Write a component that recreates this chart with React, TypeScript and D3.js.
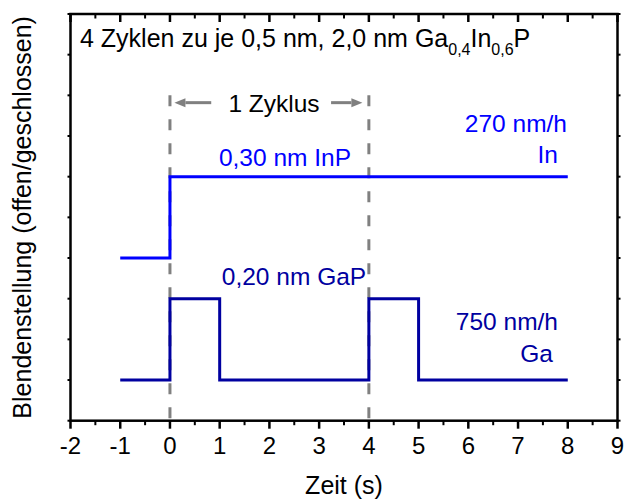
import React from "react";
import * as d3 from "d3";

// Shutter timing: time in seconds, shutter state as level
const timeTicks = [-2, -1, 0, 1, 2, 3, 4, 5, 6, 7, 8, 9];
const levelTicks = [0, 1, 2, 3, 4, 5, 6, 7, 8, 9, 10];
const inpTimes = [-1, 0, 8];
const inpLevels = [4, 6, 6];
const gaTimes = [-1, 0, 1, 4, 5, 8];
const gaLevels = [1, 3, 1, 3, 1, 1];
const cycleBounds = [0, 4];

const W = 624;
const H = 499;
const left = 70.5;
const right = 617.5;
const top = 14;
const bottom = 420.7;

const FONT = "'Liberation Sans', Arial, Helvetica, sans-serif";
const IN_COLOR = "#0000FF";
const GA_COLOR = "#0000A0";
const GRAY = "#808080";

export default function App() {
  const x = d3.scaleLinear().domain([-2, 9]).range([left, right]);
  const y = d3.scaleLinear().domain([0, 10]).range([bottom, top]);

  const step = d3
    .line<[number, number]>()
    .x((d) => x(d[0]))
    .y((d) => y(d[1]))
    .curve(d3.curveStepAfter);

  const inpPts = inpTimes.map((t, i) => [t, inpLevels[i]] as [number, number]);
  const gaPts = gaTimes.map((t, i) => [t, gaLevels[i]] as [number, number]);

  const minorTicks = d3.range(-1.5, 9, 1);

  const arrowY = y(7.82);
  const arrow = (x0: number, x1: number) => {
    const dir = Math.sign(x1 - x0);
    const headLen = 11;
    const headHalf = 4.5;
    const baseX = x1 - dir * headLen;
    return (
      <g>
        <line x1={x0} y1={arrowY} x2={baseX} y2={arrowY} stroke={GRAY} strokeWidth={3} />
        <polygon
          points={`${x1},${arrowY} ${baseX},${arrowY - headHalf} ${baseX},${arrowY + headHalf}`}
          fill={GRAY}
        />
      </g>
    );
  };

  return (
    <svg
      width={W}
      height={H}
      style={{ position: "absolute", left: 0, top: 0, background: "#fff" }}
      fontFamily={FONT}
    >
      {/* cycle boundaries */}
      {cycleBounds.map((t) => (
        <line
          key={t}
          x1={x(t)}
          x2={x(t)}
          y1={y(8)}
          y2={bottom}
          stroke={GRAY}
          strokeWidth={3}
          strokeDasharray="11,13"
        />
      ))}

      {/* shutter traces */}
      <path d={step(inpPts) ?? ""} fill="none" stroke={IN_COLOR} strokeWidth={3} />
      <path d={step(gaPts) ?? ""} fill="none" stroke={GA_COLOR} strokeWidth={3} />

      {/* frame */}
      <rect
        x={left}
        y={top}
        width={right - left}
        height={bottom - top}
        fill="none"
        stroke="#000"
        strokeWidth={2.5}
      />

      {/* bottom and top axis ticks, labels */}
      {timeTicks.map((t) => (
        <g key={`b${t}`}>
          <line x1={x(t)} x2={x(t)} y1={bottom} y2={bottom + 8} stroke="#000" strokeWidth={2.5} />
          <line x1={x(t)} x2={x(t)} y1={top} y2={top + 8} stroke="#000" strokeWidth={2.5} />
          <text x={x(t)} y={454} textAnchor="middle" fontSize={24} fill="#000">
            {t}
          </text>
        </g>
      ))}
      {minorTicks.map((t) => (
        <g key={`m${t}`}>
          <line x1={x(t)} x2={x(t)} y1={bottom} y2={bottom + 4.5} stroke="#000" strokeWidth={2} />
          <line x1={x(t)} x2={x(t)} y1={top} y2={top + 4.5} stroke="#000" strokeWidth={2} />
        </g>
      ))}

      {/* side axis ticks */}
      {levelTicks.map((v) => (
        <g key={`l${v}`}>
          <line x1={left} x2={left - 3} y1={y(v)} y2={y(v)} stroke="#000" strokeWidth={2} />
          <line x1={right} x2={right + 3} y1={y(v)} y2={y(v)} stroke="#000" strokeWidth={2} />
        </g>
      ))}

      {/* axis titles */}
      <text x={(left + right) / 2} y={494} textAnchor="middle" fontSize={25} fill="#000">
        Zeit (s)
      </text>
      <text
        transform={`translate(31,${(top + bottom) / 2}) rotate(-90)`}
        textAnchor="middle"
        fontSize={25}
        fill="#000"
      >
        Blendenstellung (offen/geschlossen)
      </text>

      {/* heading */}
      <text x={80} y={47} fontSize={25} fill="#000">
        4 Zyklen zu je 0,5 nm, 2,0 nm Ga
        <tspan fontSize={16} dy={8}>0,4</tspan>
        <tspan dy={-8}>In</tspan>
        <tspan fontSize={16} dy={8}>0,6</tspan>
        <tspan dy={-8}>P</tspan>
      </text>

      {/* cycle annotation */}
      {arrow(x(0.83), x(0.09))}
      {arrow(x(3.24), x(3.87))}
      <text x={274} y={112} textAnchor="middle" fontSize={24.5} fill="#000">
        1 Zyklus
      </text>

      {/* InP labels */}
      <text x={285} y={166} textAnchor="middle" fontSize={24.5} fill={IN_COLOR}>
        0,30 nm InP
      </text>
      <text x={567} y={132} textAnchor="end" fontSize={24.5} fill={IN_COLOR}>
        270 nm/h
      </text>
      <text x={558} y={163} textAnchor="end" fontSize={24.5} fill={IN_COLOR}>
        In
      </text>

      {/* GaP labels */}
      <text x={294} y={285} textAnchor="middle" fontSize={24.5} fill={GA_COLOR}>
        0,20 nm GaP
      </text>
      <text x={558} y={330} textAnchor="end" fontSize={24.5} fill={GA_COLOR}>
        750 nm/h
      </text>
      <text x={553} y={362} textAnchor="end" fontSize={24.5} fill={GA_COLOR}>
        Ga
      </text>
    </svg>
  );
}
